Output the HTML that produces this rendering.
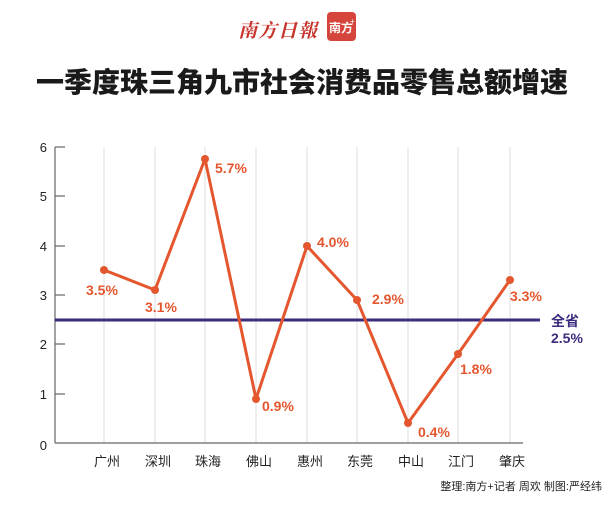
<!DOCTYPE html>
<html><head><meta charset="utf-8"><style>
body{margin:0;width:610px;height:500px;background:#fff;overflow:hidden;font-family:"Liberation Sans","Noto Sans CJK SC",sans-serif}
</style></head><body>
<svg width="610" height="500" xmlns="http://www.w3.org/2000/svg" font-family="Liberation Sans, Noto Sans CJK SC, sans-serif">
<text x="238" y="37" font-family="Noto Serif CJK SC, serif" font-size="19" font-weight="bold" fill="#c8332b" font-style="italic" letter-spacing="1">南方日報</text>
<rect x="327" y="12" width="29" height="29" rx="4" fill="#d6453c"/>
<text x="329" y="32" font-size="12" font-weight="bold" fill="#fff">南方</text><text x="350" y="24" font-size="8" fill="#fff">+</text>
<text x="302" y="92" text-anchor="middle" font-size="28" font-weight="900" fill="#1a1a1a">一季度珠三角九市社会消费品零售总额增速</text>
<g stroke="#ddd" stroke-width="1">
<line x1="104" y1="147" x2="104" y2="443"/><line x1="155" y1="147" x2="155" y2="443"/><line x1="205" y1="147" x2="205" y2="443"/><line x1="256" y1="147" x2="256" y2="443"/><line x1="307" y1="147" x2="307" y2="443"/><line x1="357" y1="147" x2="357" y2="443"/><line x1="408" y1="147" x2="408" y2="443"/><line x1="458" y1="147" x2="458" y2="443"/><line x1="510" y1="147" x2="510" y2="443"/>
</g>
<g stroke="#666" stroke-width="1.2">
<line x1="55" y1="147" x2="55" y2="443"/><line x1="55" y1="443" x2="523" y2="443"/>
<line x1="55" y1="147" x2="65" y2="147"/><line x1="55" y1="196" x2="65" y2="196"/><line x1="55" y1="246" x2="65" y2="246"/><line x1="55" y1="295" x2="65" y2="295"/><line x1="55" y1="344" x2="65" y2="344"/><line x1="55" y1="394" x2="65" y2="394"/>
</g>
<g font-size="13" fill="#222" text-anchor="end">
<text x="47" y="152">6</text><text x="47" y="201">5</text><text x="47" y="251">4</text><text x="47" y="300">3</text><text x="47" y="349">2</text><text x="47" y="399">1</text><text x="47" y="450">0</text>
</g>
<g font-size="13" fill="#222" text-anchor="middle">
<text x="107" y="466">广州</text><text x="158" y="466">深圳</text><text x="208" y="466">珠海</text><text x="259" y="466">佛山</text><text x="310" y="466">惠州</text><text x="360" y="466">东莞</text><text x="411" y="466">中山</text><text x="461" y="466">江门</text><text x="512" y="466">肇庆</text>
</g>
<line x1="55" y1="320" x2="540" y2="320" stroke="#3d2b7d" stroke-width="3"/>
<text x="551" y="326" font-size="14" font-weight="bold" fill="#3d2b7d">全省</text>
<text x="551" y="343" font-size="14" font-weight="bold" fill="#3d2b7d">2.5%</text>
<polyline points="104,270 155,290 205,159 256,399 307,246 357,300 408,423 458,354 510,280" fill="none" stroke="#e4572e" stroke-width="3" stroke-linejoin="round"/>
<g fill="#e4572e">
<circle cx="104" cy="270" r="4"/><circle cx="155" cy="290" r="4"/><circle cx="205" cy="159" r="4"/><circle cx="256" cy="399" r="4"/><circle cx="307" cy="246" r="4"/><circle cx="357" cy="300" r="4"/><circle cx="408" cy="423" r="4"/><circle cx="458" cy="354" r="4"/><circle cx="510" cy="280" r="4"/>
</g>
<g font-size="14" font-weight="bold" fill="#e4572e">
<text x="86" y="295">3.5%</text><text x="145" y="312">3.1%</text><text x="215" y="173">5.7%</text><text x="262" y="411">0.9%</text><text x="317" y="247">4.0%</text><text x="372" y="304">2.9%</text><text x="418" y="437">0.4%</text><text x="460" y="374">1.8%</text><text x="510" y="301">3.3%</text>
</g>
<text x="602" y="490" text-anchor="end" font-size="11" fill="#222">整理:南方+记者 周欢  制图:严经纬</text>
</svg>
</body></html>
